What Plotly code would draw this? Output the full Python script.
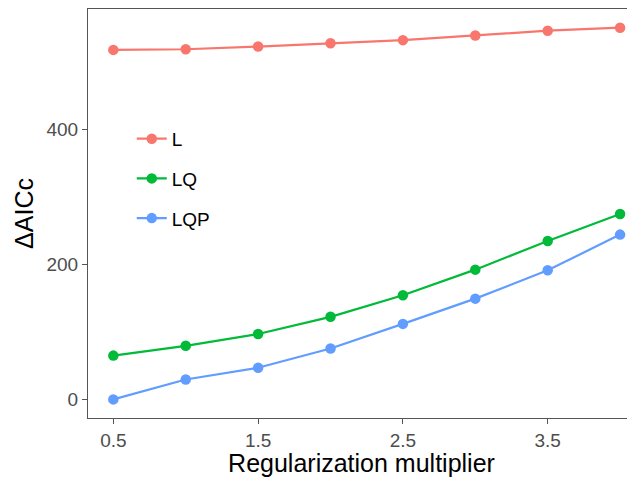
import plotly.graph_objects as go

x_vals = [0.5, 1.0, 1.5, 2.0, 2.5, 3.0, 3.5, 4.0]
series_names = ["L", "LQ", "LQP"]
L_vals = [518.5, 519.5, 523.5, 528.5, 533, 540, 547, 551.5]
LQ_vals = [65, 79.5, 97, 122.5, 154.5, 192.5, 235, 275]
LQP_vals = [0, 29.5, 47, 75.5, 112, 149.5, 191.5, 244.5]
colors = ["#F8766D", "#00BA38", "#619CFF"]
x_ticks = [0.5, 1.5, 2.5, 3.5]
y_ticks = [0, 200, 400]

fig = go.Figure()
for name, vals, col in zip(series_names, [L_vals, LQ_vals, LQP_vals], colors):
    fig.add_trace(go.Scatter(
        x=x_vals, y=vals, name=name, mode="lines+markers",
        line=dict(color=col, width=2.2),
        marker=dict(color=col, size=10.5),
        legendgroup=name,
    ))

axis_col = "#555555"
fig.update_layout(
    width=627, height=469,
    margin=dict(l=80, r=0, t=1, b=59),
    plot_bgcolor="white", paper_bgcolor="white",
    font=dict(family="Liberation Sans, Arial, sans-serif"),
    showlegend=True,
    legend=dict(
        x=0.08, y=0.729, xanchor="left", yanchor="top",
        bgcolor="rgba(0,0,0,0)",
        font=dict(size=19, color="black"),
        tracegroupgap=12,
        itemwidth=30,
    ),
    xaxis=dict(
        range=[0.325, 4.103],
        tickvals=x_ticks, ticktext=[str(t) for t in x_ticks],
        showgrid=False, zeroline=False,
        showline=True, linecolor=axis_col, linewidth=1.2, mirror=True,
        ticks="outside", ticklen=5, tickcolor=axis_col, tickwidth=1.2,
        tickfont=dict(size=19, color="#4D4D4D"),
        title=dict(text="Regularization multiplier", font=dict(size=25, color="black"), standoff=6),
    ),
    yaxis=dict(
        range=[-27.6, 579.2],
        tickvals=y_ticks,
        showgrid=False, zeroline=False,
        showline=True, linecolor=axis_col, linewidth=1.2, mirror=False,
        ticks="outside", ticklen=5, tickcolor=axis_col, tickwidth=1.2,
        tickfont=dict(size=19, color="#4D4D4D"),
        title=dict(text="ΔAICc", font=dict(size=25, color="black"), standoff=5),
    ),
)

fig.write_html("out.html")
